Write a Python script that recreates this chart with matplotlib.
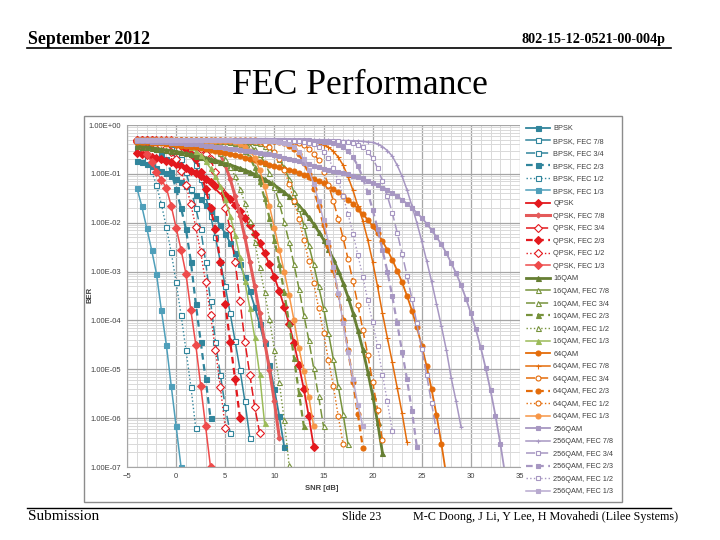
import numpy as np
import matplotlib
matplotlib.use("Agg")
import matplotlib.pyplot as plt
from matplotlib.patches import Rectangle
from matplotlib.lines import Line2D
from matplotlib.ticker import FixedLocator, MultipleLocator, FuncFormatter, NullFormatter

# BER values, SNR grid starts at -4 dB with 0.5 dB steps
snr_start = -4.0
snr_step = 0.5

# ---- BPSK ----
bpsk = [1.86e-1, 1.72e-1, 1.58e-1, 1.45e-1, 1.31e-1, 1.17e-1, 1.04e-1, 9.1e-2, 7.9e-2, 6.7e-2,
        5.6e-2, 4.6e-2, 3.75e-2, 3.0e-2, 2.3e-2, 1.7e-2, 1.25e-2, 8.8e-3, 6.0e-3, 3.9e-3,
        2.4e-3, 1.4e-3, 7.7e-4, 4.0e-4, 1.9e-4, 8.4e-5, 3.4e-5, 1.2e-5, 3.9e-6, 1.1e-6, 2.6e-7]
bpsk_78 = [4.9e-1, 4.9e-1, 4.8e-1, 4.8e-1, 4.7e-1, 4.6e-1, 4.5e-1, 4.4e-1, 4.3e-1, 4.0e-1,
           3.4e-1, 2.5e-1, 1.5e-1, 7.9e-2, 3.5e-2, 1.4e-2, 5.0e-3, 1.6e-3, 5.0e-4, 1.4e-4,
           3.8e-5, 9.8e-6, 2.2e-6, 4.0e-7]
bpsk_34 = [4.9e-1, 4.85e-1, 4.8e-1, 4.7e-1, 4.4e-1, 4.1e-1, 3.7e-1, 3.3e-1, 2.6e-1, 2.0e-1,
           1.07e-1, 4.9e-2, 2.0e-2, 7.4e-3, 1.6e-3, 2.5e-4, 3.7e-5, 7.8e-6, 1.7e-6, 5.0e-7]
bpsk_23 = [4.7e-1, 4.4e-1, 4.1e-1, 3.7e-1, 3.3e-1, 2.6e-1, 2.0e-1, 1.07e-1, 4.9e-2, 2.0e-2,
           7.4e-3, 1.6e-3, 2.2e-4, 3.7e-5, 6.3e-6, 1.0e-6]
bpsk_12 = [3.4e-1, 2.8e-1, 2.0e-1, 1.15e-1, 5.9e-2, 2.4e-2, 8.1e-3, 2.5e-3, 6.0e-4, 1.3e-4,
           2.5e-5, 4.4e-6, 6.3e-7]
bpsk_13 = [5.2e-2, 2.2e-2, 7.9e-3, 2.8e-3, 9.0e-4, 1.6e-4, 3.2e-5, 4.6e-6, 6.8e-7, 1.0e-7]

# ---- QPSK (same curves as BPSK, 3 dB to the right) ----
qpsk = [2.64e-1, 2.52e-1, 2.39e-1, 2.26e-1, 2.13e-1, 2.0e-1] + bpsk
qpsk_78 = [5.0e-1, 5.0e-1, 5.0e-1, 4.95e-1, 4.95e-1, 4.9e-1] + bpsk_78
qpsk_34 = [5.0e-1, 5.0e-1, 4.95e-1, 4.95e-1, 4.9e-1, 4.9e-1] + bpsk_34
qpsk_23 = [4.95e-1, 4.9e-1, 4.9e-1, 4.85e-1, 4.8e-1, 4.75e-1] + bpsk_23
qpsk_12 = [4.8e-1, 4.6e-1, 4.4e-1, 4.2e-1, 3.9e-1, 3.65e-1] + bpsk_12
qpsk_13 = [4.5e-1, 3.6e-1, 2.6e-1, 1.75e-1, 1.1e-1, 7.5e-2] + bpsk_13

# ---- 16QAM ----
qam16 = [3.7e-1, 3.6e-1, 3.5e-1, 3.4e-1, 3.3e-1, 3.2e-1, 3.1e-1, 3.0e-1, 2.87e-1, 2.75e-1,
         2.63e-1, 2.5e-1, 2.37e-1, 2.25e-1, 2.12e-1, 2.0e-1, 1.88e-1, 1.76e-1, 1.64e-1, 1.53e-1,
         1.41e-1, 1.3e-1, 1.19e-1, 1.09e-1, 9.8e-2, 8.8e-2, 7.8e-2, 6.8e-2, 5.9e-2, 5.0e-2,
         4.2e-2, 3.45e-2, 2.8e-2, 2.25e-2, 1.73e-2, 1.28e-2, 9.4e-3, 6.6e-3, 4.5e-3, 2.9e-3,
         1.8e-3, 1.05e-3, 5.8e-4, 3.0e-4, 1.43e-4, 6.3e-5, 2.55e-5, 9.0e-6, 2.9e-6, 8.3e-7,
         1.95e-7]
qam16_78 = [4.95e-1, 4.95e-1, 4.95e-1, 4.9e-1, 4.9e-1, 4.9e-1, 4.9e-1, 4.9e-1, 4.9e-1, 4.85e-1,
            4.85e-1, 4.85e-1, 4.85e-1, 4.8e-1, 4.8e-1, 4.8e-1, 4.8e-1, 4.75e-1, 4.75e-1, 4.75e-1,
            4.7e-1, 4.7e-1, 4.65e-1, 4.6e-1, 4.45e-1, 4.2e-1, 3.8e-1, 3.3e-1, 2.7e-1, 2.0e-1,
            1.35e-1, 7.9e-2, 4.2e-2, 2.0e-2, 8.9e-3, 3.5e-3, 1.4e-3, 5.0e-4, 1.8e-4, 5.6e-5,
            1.6e-5, 4.5e-6, 1.2e-6, 2.9e-7]
qam16_34 = [4.9e-1, 4.9e-1, 4.9e-1, 4.9e-1, 4.9e-1, 4.9e-1, 4.85e-1, 4.85e-1, 4.85e-1, 4.85e-1,
            4.8e-1, 4.8e-1, 4.8e-1, 4.8e-1, 4.8e-1, 4.8e-1, 4.75e-1, 4.75e-1, 4.75e-1, 4.7e-1,
            4.6e-1, 4.4e-1, 4.1e-1, 3.7e-1, 3.2e-1, 2.5e-1, 1.7e-1, 1.05e-1, 5.4e-2, 2.5e-2,
            1.05e-2, 4.0e-3, 1.4e-3, 4.5e-4, 1.3e-4, 4.0e-5, 1.05e-5, 2.8e-6, 6.8e-7]
qam16_23 = [4.95e-1, 4.95e-1, 4.95e-1, 4.9e-1, 4.9e-1, 4.9e-1, 4.9e-1, 4.9e-1, 4.85e-1, 4.85e-1,
            4.85e-1, 4.85e-1, 4.8e-1, 4.8e-1, 4.8e-1, 4.75e-1, 4.75e-1, 4.7e-1, 4.6e-1, 4.5e-1,
            4.2e-1, 3.7e-1, 3.0e-1, 2.2e-1, 1.35e-1, 7.1e-2, 3.2e-2, 1.26e-2, 4.5e-3, 1.4e-3,
            3.8e-4, 8.7e-5, 1.7e-5, 3.3e-6, 6.8e-7]
qam16_12 = [4.9e-1, 4.9e-1, 4.85e-1, 4.8e-1, 4.8e-1, 4.75e-1, 4.7e-1, 4.65e-1, 4.6e-1, 4.55e-1,
            4.5e-1, 4.4e-1, 4.3e-1, 4.2e-1, 4.0e-1, 3.7e-1, 3.3e-1, 2.7e-1, 2.0e-1, 1.4e-1,
            8.9e-2, 5.0e-2, 2.5e-2, 1.1e-2, 4.1e-3, 1.25e-3, 3.8e-4, 1.07e-4, 2.5e-5, 5.4e-6,
            9.3e-7, 1.1e-7]
qam16_13 = [4.7e-1, 4.65e-1, 4.6e-1, 4.55e-1, 4.5e-1, 4.45e-1, 4.4e-1, 4.3e-1, 4.3e-1, 4.1e-1,
            3.9e-1, 3.5e-1, 3.0e-1, 2.4e-1, 1.8e-1, 1.3e-1, 9.0e-2, 5.6e-2, 3.0e-2, 1.4e-2,
            5.6e-3, 2.0e-3, 6.3e-4, 1.8e-4, 4.5e-5, 7.9e-6, 8.0e-7]

# ---- 64QAM ----
qam64 = [4.5e-1, 4.45e-1, 4.4e-1, 4.35e-1, 4.3e-1, 4.2e-1, 4.1e-1, 4.0e-1, 3.9e-1, 3.8e-1,
         3.7e-1, 3.6e-1, 3.5e-1, 3.4e-1, 3.25e-1, 3.1e-1, 3.0e-1, 2.85e-1, 2.7e-1, 2.6e-1,
         2.45e-1, 2.3e-1, 2.15e-1, 2.0e-1, 1.9e-1, 1.77e-1, 1.65e-1, 1.54e-1, 1.43e-1, 1.355e-1,
         1.28e-1, 1.2e-1, 1.12e-1, 1.04e-1, 9.6e-2, 8.8e-2, 8.0e-2, 7.2e-2, 6.4e-2, 5.65e-2,
         4.9e-2, 4.2e-2, 3.57e-2, 2.97e-2, 2.42e-2, 1.94e-2, 1.51e-2, 1.15e-2, 8.5e-3, 6.1e-3,
         4.2e-3, 2.76e-3, 1.75e-3, 1.05e-3, 6.0e-4, 3.19e-4, 1.59e-4, 7.26e-5, 3.04e-5, 1.15e-5,
         3.9e-6, 1.16e-6, 3.0e-7, 6.6e-8]
qam64_78 = [5.0e-1, 5.0e-1, 5.0e-1, 5.0e-1, 4.95e-1, 4.95e-1, 4.95e-1, 4.95e-1, 4.95e-1, 4.95e-1,
            4.95e-1, 4.95e-1, 4.9e-1, 4.9e-1, 4.9e-1, 4.9e-1, 4.9e-1, 4.9e-1, 4.9e-1, 4.9e-1,
            4.9e-1, 4.9e-1, 4.85e-1, 4.85e-1, 4.85e-1, 4.85e-1, 4.85e-1, 4.85e-1, 4.8e-1, 4.8e-1,
            4.8e-1, 4.8e-1, 4.75e-1, 4.75e-1, 4.7e-1, 4.6e-1, 4.4e-1, 4.2e-1, 3.9e-1, 3.5e-1,
            2.9e-1, 2.2e-1, 1.5e-1, 8.7e-2, 4.6e-2, 2.2e-2, 1.1e-2, 4.5e-3, 1.6e-3, 5.0e-4,
            1.4e-4, 4.4e-5, 1.4e-5, 4.2e-6, 1.26e-6, 3.2e-7]
qam64_34 = [4.95e-1, 4.95e-1, 4.95e-1, 4.95e-1, 4.95e-1, 4.95e-1, 4.95e-1, 4.95e-1, 4.9e-1, 4.9e-1,
            4.9e-1, 4.9e-1, 4.9e-1, 4.9e-1, 4.9e-1, 4.9e-1, 4.9e-1, 4.9e-1, 4.85e-1, 4.85e-1,
            4.85e-1, 4.85e-1, 4.85e-1, 4.85e-1, 4.85e-1, 4.8e-1, 4.8e-1, 4.8e-1, 4.8e-1, 4.75e-1,
            4.7e-1, 4.6e-1, 4.5e-1, 4.3e-1, 3.9e-1, 3.3e-1, 2.6e-1, 1.9e-1, 1.1e-1, 6.0e-2,
            2.8e-2, 1.2e-2, 4.8e-3, 1.8e-3, 6.3e-4, 2.1e-4, 6.5e-5, 2.0e-5, 5.6e-6, 1.5e-6,
            3.5e-7]
qam64_23 = [4.95e-1, 4.95e-1, 4.95e-1, 4.95e-1, 4.9e-1, 4.9e-1, 4.9e-1, 4.9e-1, 4.9e-1, 4.9e-1,
            4.9e-1, 4.9e-1, 4.85e-1, 4.85e-1, 4.85e-1, 4.85e-1, 4.85e-1, 4.85e-1, 4.8e-1, 4.8e-1,
            4.8e-1, 4.8e-1, 4.8e-1, 4.75e-1, 4.75e-1, 4.75e-1, 4.7e-1, 4.7e-1, 4.65e-1, 4.5e-1,
            4.2e-1, 3.8e-1, 3.2e-1, 2.5e-1, 1.7e-1, 1.0e-1, 5.0e-2, 2.2e-2, 8.9e-3, 3.3e-3,
            1.1e-3, 3.5e-4, 1.0e-4, 2.5e-5, 5.6e-6, 1.2e-6, 2.5e-7]
qam64_12 = [4.95e-1, 4.95e-1, 4.95e-1, 4.9e-1, 4.9e-1, 4.9e-1, 4.9e-1, 4.9e-1, 4.9e-1, 4.9e-1,
            4.85e-1, 4.85e-1, 4.85e-1, 4.85e-1, 4.85e-1, 4.8e-1, 4.8e-1, 4.8e-1, 4.8e-1, 4.8e-1,
            4.75e-1, 4.75e-1, 4.7e-1, 4.7e-1, 4.6e-1, 4.4e-1, 4.0e-1, 3.5e-1, 2.8e-1, 2.0e-1,
            1.2e-1, 6.3e-2, 2.8e-2, 1.17e-2, 4.5e-3, 1.66e-3, 5.8e-4, 1.8e-4, 5.6e-5, 1.55e-5,
            4.6e-6, 1.1e-6, 2.9e-7]
qam64_13 = [4.9e-1, 4.9e-1, 4.9e-1, 4.9e-1, 4.9e-1, 4.85e-1, 4.85e-1, 4.85e-1, 4.85e-1, 4.8e-1,
            4.8e-1, 4.8e-1, 4.8e-1, 4.8e-1, 4.75e-1, 4.75e-1, 4.75e-1, 4.75e-1, 4.7e-1, 4.6e-1,
            4.4e-1, 4.1e-1, 3.6e-1, 3.0e-1, 2.1e-1, 1.2e-1, 5.6e-2, 2.2e-2, 7.9e-3, 2.8e-3,
            1.0e-3, 3.3e-4, 1.0e-4, 2.7e-5, 9.1e-6, 2.75e-6, 6.8e-7]

# ---- 256QAM ----
qam256 = [4.7e-1, 4.65e-1, 4.6e-1, 4.55e-1, 4.5e-1, 4.45e-1, 4.4e-1, 4.35e-1, 4.3e-1, 4.2e-1,
          4.15e-1, 4.05e-1, 4.0e-1, 3.9e-1, 3.8e-1, 3.7e-1, 3.6e-1, 3.5e-1, 3.4e-1, 3.3e-1,
          3.2e-1, 3.1e-1, 3.0e-1, 2.9e-1, 2.8e-1, 2.7e-1, 2.6e-1, 2.5e-1, 2.4e-1, 2.28e-1,
          2.16e-1, 2.04e-1, 1.92e-1, 1.8e-1, 1.68e-1, 1.57e-1, 1.46e-1, 1.36e-1, 1.27e-1, 1.2e-1,
          1.16e-1, 1.1e-1, 1.04e-1, 9.75e-2, 9.1e-2, 8.5e-2, 7.8e-2, 7.2e-2, 6.5e-2, 5.9e-2,
          5.2e-2, 4.6e-2, 4.0e-2, 3.5e-2, 2.95e-2, 2.45e-2, 2.0e-2, 1.6e-2, 1.26e-2, 9.6e-3,
          7.1e-3, 5.1e-3, 3.6e-3, 2.4e-3, 1.5e-3, 9.2e-4, 5.3e-4, 2.8e-4, 1.4e-4, 6.6e-5,
          2.8e-5, 1.07e-5, 3.7e-6, 1.13e-6, 3.0e-7, 6.7e-8]
qam256_78 = [5.0e-1, 5.0e-1, 5.0e-1, 5.0e-1, 5.0e-1, 5.0e-1, 5.0e-1, 5.0e-1, 4.95e-1, 4.95e-1,
             4.95e-1, 4.95e-1, 4.95e-1, 4.95e-1, 4.95e-1, 4.95e-1, 4.95e-1, 4.95e-1, 4.95e-1, 4.95e-1,
             4.9e-1, 4.9e-1, 4.9e-1, 4.9e-1, 4.9e-1, 4.9e-1, 4.9e-1, 4.9e-1, 4.9e-1, 4.9e-1,
             4.9e-1, 4.9e-1, 4.85e-1, 4.85e-1, 4.85e-1, 4.85e-1, 4.85e-1, 4.85e-1, 4.85e-1, 4.85e-1,
             4.8e-1, 4.8e-1, 4.8e-1, 4.8e-1, 4.75e-1, 4.75e-1, 4.6e-1, 4.5e-1, 4.4e-1, 4.1e-1,
             3.6e-1, 3.0e-1, 2.3e-1, 1.5e-1, 8.9e-2, 4.7e-2, 2.2e-2, 1.0e-2, 4.2e-3, 1.66e-3,
             6.3e-4, 2.2e-4, 7.6e-5, 2.5e-5, 6.6e-6, 2.2e-6, 6.6e-7]
qam256_34 = [5.0e-1, 5.0e-1, 5.0e-1, 5.0e-1, 5.0e-1, 5.0e-1, 4.95e-1, 4.95e-1, 4.95e-1, 4.95e-1,
             4.95e-1, 4.95e-1, 4.95e-1, 4.95e-1, 4.95e-1, 4.95e-1, 4.9e-1, 4.9e-1, 4.9e-1, 4.9e-1,
             4.9e-1, 4.9e-1, 4.9e-1, 4.9e-1, 4.9e-1, 4.9e-1, 4.9e-1, 4.9e-1, 4.85e-1, 4.85e-1,
             4.85e-1, 4.85e-1, 4.85e-1, 4.85e-1, 4.85e-1, 4.85e-1, 4.8e-1, 4.8e-1, 4.8e-1, 4.8e-1,
             4.75e-1, 4.75e-1, 4.5e-1, 4.4e-1, 4.2e-1, 3.9e-1, 3.5e-1, 2.8e-1, 2.1e-1, 1.3e-1,
             7.2e-2, 3.5e-2, 1.6e-2, 6.3e-3, 2.3e-3, 8.3e-4, 2.75e-4, 8.7e-5, 2.6e-5, 7.6e-6,
             2.0e-6, 5.4e-7]
qam256_23 = [5.0e-1, 5.0e-1, 5.0e-1, 5.0e-1, 5.0e-1, 4.95e-1, 4.95e-1, 4.95e-1, 4.95e-1, 4.95e-1,
             4.95e-1, 4.95e-1, 4.95e-1, 4.95e-1, 4.95e-1, 4.9e-1, 4.9e-1, 4.9e-1, 4.9e-1, 4.9e-1,
             4.9e-1, 4.9e-1, 4.9e-1, 4.9e-1, 4.9e-1, 4.85e-1, 4.85e-1, 4.85e-1, 4.85e-1, 4.85e-1,
             4.85e-1, 4.8e-1, 4.8e-1, 4.8e-1, 4.8e-1, 4.75e-1, 4.75e-1, 4.6e-1, 4.5e-1, 4.4e-1,
             4.2e-1, 3.9e-1, 3.5e-1, 2.9e-1, 2.2e-1, 1.45e-1, 8.3e-2, 4.2e-2, 1.86e-2, 7.6e-3,
             2.8e-3, 1.0e-3, 3.1e-4, 8.7e-5, 2.3e-5, 6.2e-6, 1.4e-6, 2.6e-7]
qam256_12 = [5.0e-1, 5.0e-1, 5.0e-1, 4.95e-1, 4.95e-1, 4.95e-1, 4.95e-1, 4.95e-1, 4.95e-1, 4.95e-1,
             4.95e-1, 4.9e-1, 4.9e-1, 4.9e-1, 4.9e-1, 4.9e-1, 4.9e-1, 4.9e-1, 4.9e-1, 4.9e-1,
             4.9e-1, 4.85e-1, 4.85e-1, 4.85e-1, 4.85e-1, 4.85e-1, 4.85e-1, 4.8e-1, 4.8e-1, 4.8e-1,
             4.8e-1, 4.75e-1, 4.75e-1, 4.6e-1, 4.5e-1, 4.3e-1, 4.0e-1, 3.5e-1, 2.8e-1, 2.1e-1,
             1.3e-1, 7.2e-2, 3.5e-2, 1.5e-2, 6.0e-3, 2.2e-3, 7.9e-4, 2.6e-4, 9.1e-5, 3.0e-5,
             7.8e-6, 2.2e-6, 5.4e-7]
qam256_13 = [4.95e-1, 4.95e-1, 4.95e-1, 4.95e-1, 4.9e-1, 4.9e-1, 4.9e-1, 4.9e-1, 4.9e-1, 4.9e-1,
             4.9e-1, 4.9e-1, 4.85e-1, 4.85e-1, 4.85e-1, 4.85e-1, 4.85e-1, 4.85e-1, 4.85e-1, 4.85e-1,
             4.8e-1, 4.8e-1, 4.8e-1, 4.8e-1, 4.8e-1, 4.75e-1, 4.75e-1, 4.75e-1, 4.6e-1, 4.5e-1,
             4.3e-1, 4.0e-1, 3.5e-1, 2.8e-1, 2.0e-1, 1.2e-1, 6.3e-2, 2.8e-2, 1.12e-2, 4.0e-3,
             1.26e-3, 3.6e-4, 8.7e-5, 2.3e-5, 6.3e-6, 1.86e-6, 6.8e-7]

mods = ['BPSK', 'QPSK', '16QAM', '64QAM', '256QAM']
rates = ['', 'FEC 7/8', 'FEC 3/4', 'FEC 2/3', 'FEC 1/2', 'FEC 1/3']
curves = [
    [bpsk, bpsk_78, bpsk_34, bpsk_23, bpsk_12, bpsk_13],
    [qpsk, qpsk_78, qpsk_34, qpsk_23, qpsk_12, qpsk_13],
    [qam16, qam16_78, qam16_34, qam16_23, qam16_12, qam16_13],
    [qam64, qam64_78, qam64_34, qam64_23, qam64_12, qam64_13],
    [qam256, qam256_78, qam256_34, qam256_23, qam256_12, qam256_13],
]

# colours per modulation: main / light (FEC 1/3)
colors = {'BPSK': ('#31859C', '#4F9FBA'), 'QPSK': ('#E3191E', '#EE4B4B'),
          '16QAM': ('#77933C', '#9BBB59'), '64QAM': ('#E46C0A', '#F79646'),
          '256QAM': ('#A797C2', '#B8AACF')}
markers = {'BPSK': 's', 'QPSK': 'D', '16QAM': '^', '64QAM': 'o', '256QAM': 's'}
# per code rate: linestyle, linewidth, filled marker
rate_style = [('-', 1.3, True), ('-', 1.1, False), ((0, (6, 2.5)), 1.1, False),
              ((0, (3, 2)), 1.6, True), (':', 1.0, False), ('-', 1.1, True)]

fig = plt.figure(figsize=(7.2, 5.4), dpi=100)

# slide header and footer
serif = 'Liberation Serif'
fig.text(28 / 720, 1 - 39 / 540, 'September 2012', family=serif, weight='bold', fontsize=12.8, va='center')
fig.text(666 / 720, 1 - 40 / 540, '802-15-12-0521-00-004p', family=serif, weight='bold', fontsize=10.2,
         va='center', ha='right')
fig.add_artist(Line2D([27 / 720, 671 / 720], [1 - 48 / 540, 1 - 48 / 540], color='black', lw=1.2))
fig.text(360 / 720, 1 - 86 / 540, 'FEC Performance', family=serif, fontsize=25.7, ha='center', va='center')
fig.add_artist(Line2D([27 / 720, 671 / 720], [1 - 508 / 540, 1 - 508 / 540], color='black', lw=1.0))
fig.text(28 / 720, 1 - 517 / 540, 'Submission', family=serif, fontsize=11, va='center')
fig.text(362 / 720, 1 - 517 / 540, 'Slide 23', family=serif, fontsize=8.6, va='center', ha='center')
fig.text(678 / 720, 1 - 517 / 540, 'M-C Doong, J Li, Y Lee, H Movahedi (Lilee Systems)', family=serif,
         fontsize=8.7, va='center', ha='right')

# chart frame
fig.add_artist(Rectangle((84 / 720, 1 - 502 / 540), (622 - 84) / 720, (502 - 116) / 540,
                         transform=fig.transFigure, fill=False, ec='#8C8C8C', lw=1.0))

ax = fig.add_axes([127 / 720, 1 - 467 / 540, (520 - 127) / 720, (467 - 125) / 540])

for mod, group in zip(mods, curves):
    main, light = colors[mod]
    mk = markers[mod]
    for i, ber in enumerate(group):
        ls, lw, filled = rate_style[i]
        col = light if i == 5 else main
        ms = 2.8 if mod == '256QAM' else 3.6
        if mod == '16QAM' and i == 0:
            col, lw = '#667F33', 2.0
        if mod == 'QPSK' and i == 1:
            col, lw, filled, ms = '#E45A5A', 2.2, True, 2.6
        m = mk
        if i == 1 and mod in ('64QAM', '256QAM'):
            m = '+'
        snr = snr_start + snr_step * np.arange(len(ber))
        label = mod if rates[i] == '' else mod + ', ' + rates[i]
        ax.plot(snr, ber, linestyle=ls, lw=lw, color=col, marker=m, ms=ms,
                mfc=col if filled else 'white', mec=col, mew=0.8, label=label)

ax.set_yscale('log')
ax.set_xlim(-5, 35)
ax.set_ylim(1e-7, 1)
ax.xaxis.set_major_locator(MultipleLocator(5))
ax.xaxis.set_minor_locator(MultipleLocator(1))
ax.yaxis.set_major_locator(FixedLocator([10.0 ** k for k in range(-7, 1)]))
ax.yaxis.set_major_formatter(FuncFormatter(lambda v, p: f'{v:.2E}'))
ax.yaxis.set_minor_formatter(NullFormatter())
ax.grid(which='major', color='#A6A6A6', lw=0.9)
ax.grid(which='minor', color='#D9D9D9', lw=0.7)
ax.set_axisbelow(True)
for side in ('top', 'right'):
    ax.spines[side].set_visible(False)
for side in ('left', 'bottom'):
    ax.spines[side].set_color('#A6A6A6')
ax.tick_params(which='both', length=0, labelsize=5.5, labelcolor='#404040', pad=4,
               labelfontfamily='Liberation Sans')

fig.text(322 / 720, 1 - 489 / 540, 'SNR [dB]', fontsize=5.5, weight='bold', color='#404040',
         ha='center', va='center', family='Liberation Sans')
fig.text(90 / 720, 1 - 295 / 540, 'BER', fontsize=5.5, weight='bold', color='#404040',
         ha='center', va='center', rotation=90, family='Liberation Sans')

handles, labels = ax.get_legend_handles_labels()
fig.legend(handles, labels, loc='upper left', bbox_to_anchor=(526 / 720, 1 - 125 / 540),
           frameon=False, prop={'family': 'Liberation Sans', 'size': 5.3}, labelcolor='#404040',
           handlelength=3.2, handletextpad=0.5, labelspacing=0.73, borderaxespad=0, borderpad=0)

fig.savefig('out.png', dpi=100)
